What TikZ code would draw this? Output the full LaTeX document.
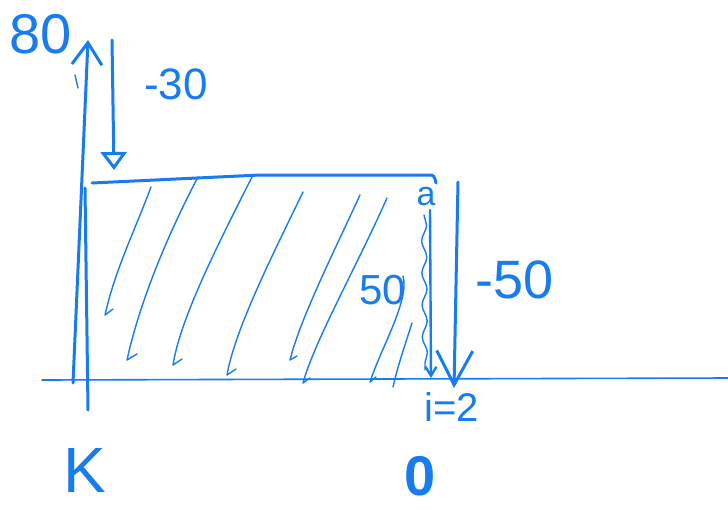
\documentclass[tikz,border=0pt]{standalone}
\usepackage{fontspec}
\setmainfont{Liberation Sans}
\usetikzlibrary{arrows.meta,decorations.pathmorphing}
\definecolor{hb}{RGB}{22,124,240}
\begin{document}
\begin{tikzpicture}[x=1pt,y=-1pt,
  ink/.style={draw=hb, line width=3pt, line cap=round, line join=round},
  midink/.style={draw=hb, line width=2.4pt, line cap=round, line join=round},
  thinink/.style={draw=hb, line width=1.6pt, line cap=round},
  hatch/.style={draw=hb, line width=1.4pt, line cap=round, line join=round},
  lbl/.style={text=hb, inner sep=0pt}]
\useasboundingbox (0,0) rectangle (728,509);
\fill[white] (0,0) rectangle (728,509);
% coordinates
\coordinate (axL) at (42,380); \coordinate (axR) at (728,378);
\coordinate (yB) at (73,383); \coordinate (yT) at (88,40);
\coordinate (y2B) at (88,410); \coordinate (y2T) at (85,188);
\coordinate (d30T) at (112,40); \coordinate (d30B) at (114,170);
\coordinate (rL) at (92,183); \coordinate (rM) at (260,175); \coordinate (rR) at (428,175); \coordinate (rE) at (436,183);
\coordinate (aT) at (430,210); \coordinate (aB) at (431,378);
\coordinate (d50T) at (458,182); \coordinate (d50B) at (454,388);
\coordinate (wT) at (424,215); \coordinate (wB) at (425,370);
% axes
\draw[thinink] (axL) -- (axR);
\draw[ink, -{Straight Barb[length=22pt,width=30pt]}] (yB) -- (yT);
\draw[ink] (y2B) -- (y2T);
\draw[hatch] (75,75) -- (78,88);
% -30 arrow
\draw[ink, -{Triangle[open,length=18pt,width=26pt]}] (d30T) -- (d30B);
% rectangle top
\draw[ink] (rL) -- (rM) -- (rR) .. controls (434,175) .. (rE);
% hatching
\draw[hatch] (151,187) .. controls (135,230) and (115,270) .. (105,315) -- ++(8,-6);
\draw[hatch] (198,177) .. controls (170,230) and (140,300) .. (127,360) -- ++(10,-6);
\draw[hatch] (252,177) .. controls (215,250) and (180,320) .. (173,365) -- ++(9,-6);
\draw[hatch] (303,192) .. controls (270,260) and (235,330) .. (227,375) -- ++(9,-6);
\draw[hatch] (360,195) .. controls (330,260) and (300,320) .. (290,360) -- ++(7,-4);
\draw[hatch] (387,198) .. controls (355,270) and (315,340) .. (303,383) -- ++(7,-5);
\draw[hatch] (403,276) .. controls (410,300) and (380,350) .. (370,382) -- ++(6,-5);
\draw[hatch] (412,323) .. controls (405,345) and (398,365) .. (393,387);
% a-line and wave
\draw[hatch, decorate, decoration={snake, segment length=32pt, amplitude=2.5pt}] (wT) -- (wB);
\draw[midink, -{Straight Barb[length=9pt,width=11pt]}] (aT) -- (aB);
% -50 arrow
\draw[ink, -{Straight Barb[length=34pt,width=36pt]}] (d50T) -- (d50B);
% labels
\node[lbl, font=\fontsize{56}{56}\selectfont] (l80) at (41,34) {80};
\node[lbl, font=\fontsize{44}{44}\selectfont] (l30) at (176,84) {-30};
\node[lbl, font=\fontsize{34}{34}\selectfont] (la) at (426,197) {a};
\node[lbl, font=\fontsize{42}{42}\selectfont] (l50) at (383,290) {50};
\node[lbl, font=\fontsize{54}{54}\selectfont] (lm50) at (515,280) {-50};
\node[lbl, font=\fontsize{40}{40}\selectfont] (li) at (452,407) {i=2};
\node[lbl, font=\fontsize{64}{64}\selectfont] (lK) at (85,470) {K};
\node[lbl, font=\fontsize{56}{56}\selectfont\bfseries] (l0) at (420,476) {0};
\end{tikzpicture}
\end{document}
